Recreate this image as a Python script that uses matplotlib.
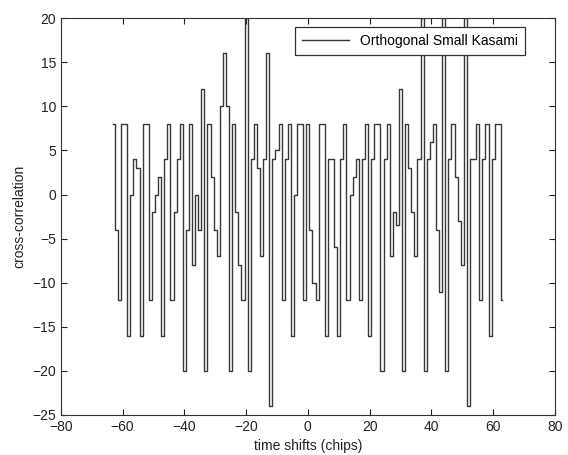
import numpy as np
import matplotlib.pyplot as plt

# cross-correlation of orthogonal small Kasami codes, lags -63..63
lags = np.arange(-63, 64)
xcorr = [
    8, -4, -12, 8, 8, -16, 0, 4, 3, -16,        # -63 .. -54
    8, 8, -12, -2, 0, 2, -16, 4, 8, -12,        # -53 .. -44
    -2, 4, 8, -20, -4, 8, -8, 0, -4, 12,        # -43 .. -34
    -20, 8, 2, -4, -7, 10, 16, 10, -20, 8,      # -33 .. -24
    -2, -8, -12, 20, -20, 4, 8, 3, -7, 4,       # -23 .. -14
    16, -24, 4, 5, 8, -12, 4, 8, -16, 0,        # -13 .. -4
    8, 8, -12, 8, -4, -10, -12, 8, 8, -16,      # -3 .. 6
    4, 4, -6, -16, 4, 8, -12, 0, 2, 4,          # 7 .. 16
    -12, 4, 8, -16, 4, 8, 8, -20, 4, 8,         # 17 .. 26
    -7, -2, -3.5, 12, -20, 8, 3, -2, -7, 4,     # 27 .. 36
    20, -20, 4, 6, 8, -4, -11, 20, -20, 4,      # 37 .. 46
    8, 2, -3, -8, 20, -24, 4, 4, 8, -12,        # 47 .. 56
    4, 8, -16, 4, 8, 8, -12,                    # 57 .. 63
]

x_ticks = np.arange(-80, 81, 20)
y_ticks = np.arange(-25, 21, 5)

plt.rcParams['font.family'] = ['Liberation Sans', 'DejaVu Sans']

fig = plt.figure(figsize=(5.68, 4.55), dpi=100)
ax = fig.add_axes([0.107, 0.088, 0.870, 0.872])

ax.plot(lags, xcorr, color='#383838', linewidth=1.0, drawstyle='steps-mid',
        label='Orthogonal Small Kasami')

ax.set_xlim(-80, 80)
ax.set_ylim(-25, 20)
ax.set_xticks(x_ticks)
ax.set_yticks(y_ticks)
ax.tick_params(direction='in', top=True, right=True, labelsize=10,
               colors='#222222', length=4)
for s in ax.spines.values():
    s.set_color('#333333')

ax.set_xlabel('time shifts (chips)', fontsize=10, color='#222222', labelpad=4)
ax.set_ylabel('cross-correlation', fontsize=10, color='#222222', labelpad=4)

leg = ax.legend(loc='upper right', bbox_to_anchor=(0.94, 0.978),
                borderaxespad=0, fontsize=10, fancybox=False, framealpha=1,
                edgecolor='#333333', handlelength=3.4, borderpad=0.5)
leg.get_frame().set_linewidth(0.9)

fig.savefig('out.png', dpi=100)
